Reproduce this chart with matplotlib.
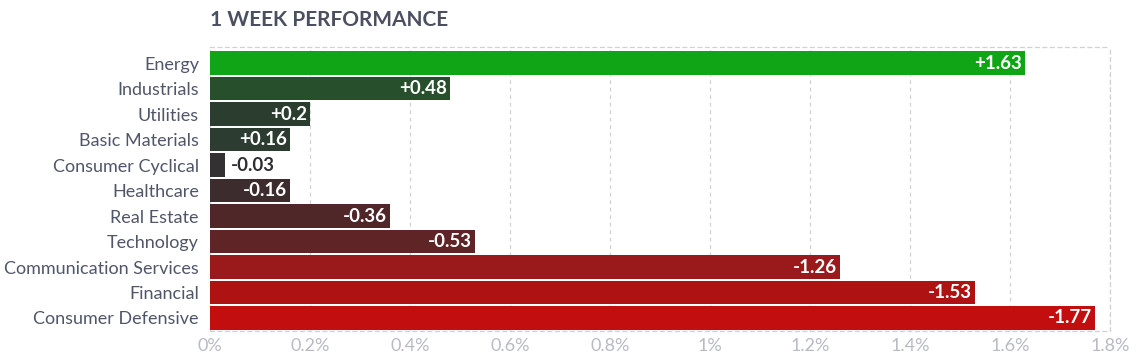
import numpy as np
import matplotlib.pyplot as plt

plt.rcParams['font.family'] = ['Lato', 'DejaVu Sans']

# data
sectors = ["Energy", "Industrials", "Utilities", "Basic Materials", "Consumer Cyclical",
           "Healthcare", "Real Estate", "Technology", "Communication Services",
           "Financial", "Consumer Defensive"]
changes = [1.63, 0.48, 0.2, 0.16, -0.03, -0.16, -0.36, -0.53, -1.26, -1.53, -1.77]
colors = ["#10a516", "#284f2c", "#2b3d2f", "#2d3c30", "#333132", "#3d2c2e",
          "#4f2729", "#5e2426", "#9a1a1b", "#ae1212", "#c20e0e"]
xticks = [0, 0.2, 0.4, 0.6, 0.8, 1.0, 1.2, 1.4, 1.6, 1.8]
xtick_labels = ["0%", "0.2%", "0.4%", "0.6%", "0.8%", "1%", "1.2%", "1.4%", "1.6%", "1.8%"]

fig = plt.figure(figsize=(11.44, 3.6), dpi=100)
ax = fig.add_axes([210 / 1144, 29 / 360, 900 / 1144, 284 / 360])

y = np.arange(len(sectors))
widths = np.abs(changes)
ax.barh(y, widths, height=0.93, color=colors, zorder=3)

ax.set_ylim(len(sectors) - 0.49, -0.63)
ax.set_xlim(0, 1.8)

# value labels
for i, v in enumerate(changes):
    txt = ("+" if v > 0 else "") + ("%g" % v)
    if abs(v) > 0.1:
        ax.annotate(txt, (abs(v), i), xytext=(-2, 0), textcoords="offset points",
                    ha="right", va="center", color="white", fontsize=13.5,
                    fontweight="bold", zorder=4)
    else:
        ax.annotate(txt, (abs(v), i), xytext=(4, 0), textcoords="offset points",
                    ha="left", va="center", color="#2d2d33", fontsize=13.5,
                    fontweight="bold", zorder=4)

ax.set_yticks(y)
ax.set_yticklabels(sectors, fontsize=13, color="#505669")
ax.set_xticks(xticks)
ax.set_xticklabels(xtick_labels, fontsize=13, color="#b8bbc4")
ax.tick_params(length=0, pad=5)
ax.tick_params(axis="y", pad=8)

ax.grid(axis="x", color="#d0d0d6", linestyle=(0, (3, 3)), linewidth=0.9, zorder=0)
for s in ["top", "bottom", "right"]:
    ax.spines[s].set_color("#d0d0d6")
    ax.spines[s].set_linestyle((0, (3, 3)))
    ax.spines[s].set_linewidth(0.9)
ax.spines["left"].set_visible(False)

fig.text(210 / 1144, 1 - 20 / 360, "1 WEEK PERFORMANCE", fontsize=15, fontweight="bold",
         color="#4b5061", ha="left", va="center")

fig.savefig("out.png", dpi=100)
